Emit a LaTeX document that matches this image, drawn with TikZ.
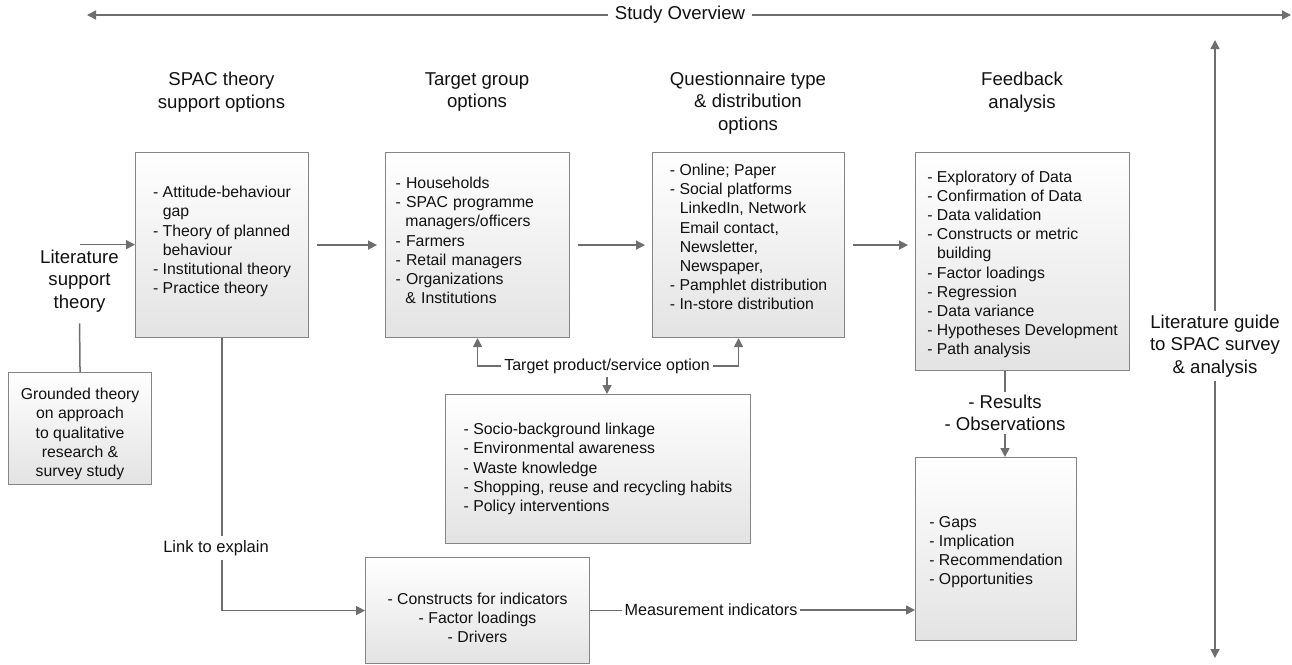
\documentclass[tikz,border=0pt]{standalone}
\usepackage{fontspec}
\setmainfont{Liberation Sans}
\usetikzlibrary{arrows.meta}
\definecolor{linegray}{HTML}{6E6E6E}
\definecolor{boxgray}{HTML}{858585}
\definecolor{boxbottom}{HTML}{E3E3E3}
\definecolor{ink}{HTML}{111111}
\newcommand\fhead{\fontsize{18.6}{22.5}\selectfont}
\newcommand\fitem{\fontsize{15.8}{19.2}\selectfont}
\newcommand\fmid{\fontsize{16}{19.2}\selectfont}
\newcommand\ind{\hspace*{0.62em}}
\begin{document}
\begin{tikzpicture}[x=1pt,y=-1pt,
  line/.style={draw=linegray, line width=1.5pt},
  arr/.style={line, -{Triangle[length=9pt,width=9pt]}},
  box/.style={rectangle, draw=boxgray, line width=1.1pt, top color=white,
    bottom color=boxbottom, inner sep=0pt, anchor=north west, align=left,
    font=\fitem, text=ink},
  head/.style={align=center, font=\fhead, text=ink},
  tag/.style={align=center, font=\fhead, text=ink, fill=white, inner sep=4pt}
]
\useasboundingbox (0,0) rectangle (1292,664);

% study overview, across the top
\coordinate (ovL) at (87,15);
\coordinate (ovR) at (1291,15);
\node[tag, inner xsep=7pt] (ov) at (680,15) {Study Overview};
\draw[arr] (ov.west) -- (ovL);
\draw[arr] (ov.east) -- (ovR);

% literature guide, down the right side
\coordinate (gdT) at (1215,40);
\coordinate (gdB) at (1215,658);
\node[tag] (guide) at (1215,346) {Literature guide\\to SPAC survey\\\& analysis};
\draw[arr] (guide.north) -- (gdT);
\draw[arr] (guide.south) -- (gdB);

% column headings
\node[head] (h1) at (221.5,92) {SPAC theory\\support options};
\node[head] (h2) at (477,92) {Target group\\options};
\node[head] (h3) at (748,103) {Questionnaire type\\\& distribution\\options};
\node[head] (h4) at (1022,92) {Feedback\\analysis};

% main boxes
\node[box, minimum width=173pt, minimum height=185pt] (spac) at (135,152)
  {- Attitude-behaviour\\\ind gap\\- Theory of planned\\\ind behaviour\\- Institutional theory\\- Practice theory\\[-9pt]\mbox{}};
\node[box, minimum width=184pt, minimum height=185pt, text width=164pt] (target) at (385,152)
  {- Households\\- SPAC programme\\\ind managers/officers\\- Farmers\\- Retail managers\\- Organizations\\\ind\& Institutions\\[-10pt]\mbox{}};
\node[box, minimum width=192pt, minimum height=185pt] (quest) at (652,152)
  {- Online; Paper\\- Social platforms\\\ind LinkedIn, Network\\\ind Email contact,\\\ind Newsletter,\\\ind Newspaper,\\- Pamphlet distribution\\- In-store distribution\\[-3pt]\mbox{}};
\node[box, minimum width=214pt, minimum height=218pt] (feed) at (915,152)
  {\mbox{}\\[-2pt]- Exploratory of Data\\- Confirmation of Data\\- Data validation\\- Constructs or metric\\\ind building\\- Factor loadings\\- Regression\\- Data variance\\- Hypotheses Development\\- Path analysis};

% lower boxes
\node[box, minimum width=143pt, minimum height=112pt, align=center] (grounded) at (8,372)
  {\mbox{}\\[3pt]Grounded theory\\on approach\\to qualitative\\research \&\\survey study};
\node[box, minimum width=305pt, minimum height=149pt] (socio) at (445,394)
  {- Socio-background linkage\\- Environmental awareness\\- Waste knowledge\\- Shopping, reuse and recycling habits\\- Policy interventions};
\node[box, minimum width=224pt, minimum height=106pt, align=center] (cons) at (365,557)
  {\mbox{}\\[7pt]- Constructs for indicators\\- Factor loadings\\- Drivers};
\node[box, minimum width=161pt, minimum height=183pt] (gaps) at (915,457)
  {\mbox{}\\[-2pt]- Gaps\\- Implication\\- Recommendation\\- Opportunities};

% literature support theory on the left
\node[head, inner sep=5pt] (lit) at (79.5,281) {Literature\\support\\theory};
\draw[arr] (lit.north) -- (lit.north -| spac.west);
\draw[line, shorten <=6pt] (lit.south) -- (grounded.north);

% flow between the main boxes
\draw[arr, shorten <=8pt, shorten >=8pt] (spac.east) -- (target.west);
\draw[arr, shorten <=8pt, shorten >=7pt] (target.east) -- (quest.west);
\draw[arr, shorten <=8pt, shorten >=7pt] (quest.east) -- (quest.east -| feed.west);

% target product / service option
\node[font=\fmid, text=ink, inner xsep=3pt] (tp) at (607,366) {Target product/service option};
\draw[arr] (tp.west) -| (target.south);
\draw[arr] (tp.east) -| ([xshift=-10pt]quest.south);
\draw[arr] (tp.south) -- (tp.south |- socio.north);

% link to explain
\node[font=\fontsize{16.5}{19}\selectfont, text=ink, inner sep=4pt] (link) at (216,548) {Link to explain};
\draw[line] (spac.south) -- (spac.south |- link.north);
\draw[arr] (spac.south |- link.south) |- (cons.west);

% measurement indicators
\node[font=\fontsize{16.2}{19}\selectfont, text=ink, inner xsep=2pt] (meas) at (711,610) {Measurement indicators};
\draw[line] (cons.east) -- (cons.east -| meas.west);
\draw[arr] (meas.east) -- (meas.east -| gaps.west);

% results and observations
\node[head, inner sep=3pt] (res) at (1005,413) {- Results\\- Observations};
\draw[line] (res.north |- feed.south) -- (res.north);
\draw[arr] (res.south) -- (res.south |- gaps.north);
\end{tikzpicture}
\end{document}
